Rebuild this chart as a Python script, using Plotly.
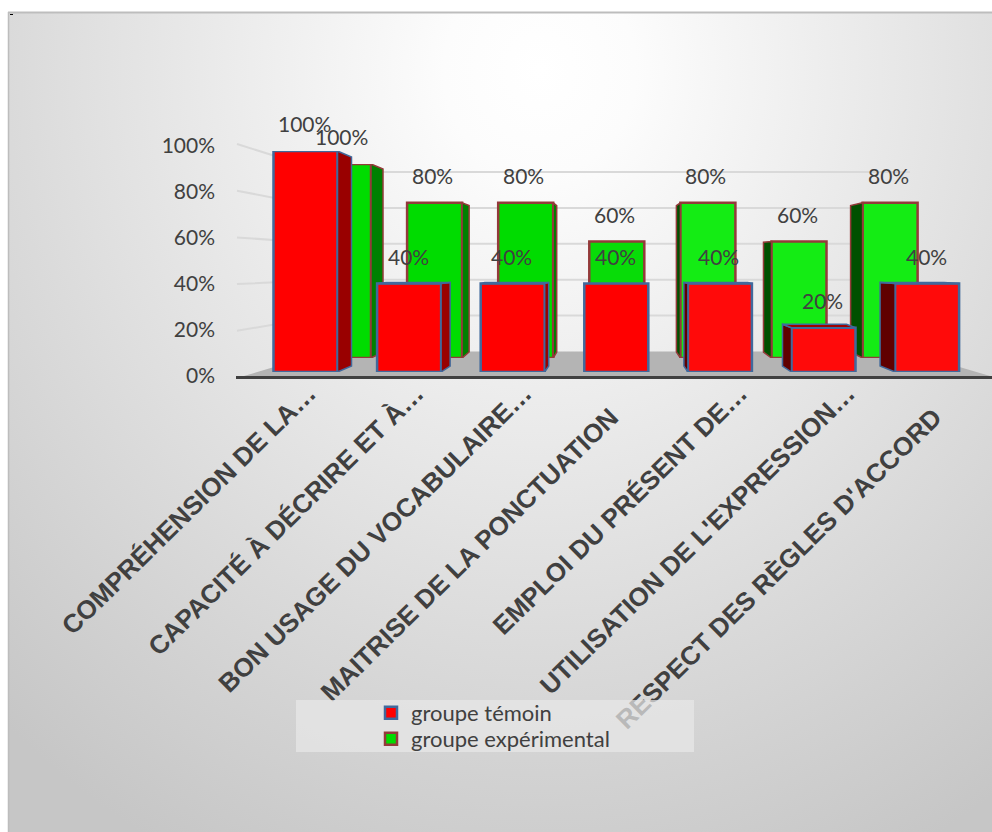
import base64
import plotly.graph_objects as go

# ---------- data ----------
categories = ["COMPRÉHENSION DE LA…", "CAPACITÉ À DÉCRIRE ET À…", "BON USAGE DU VOCABULAIRE…",
              "MAITRISE DE LA PONCTUATION", "EMPLOI DU PRÉSENT DE…", "UTILISATION DE L'EXPRESSION…",
              "RESPECT DES RÈGLES D'ACCORD"]
temoin = [100, 40, 40, 40, 40, 20, 40]
experimental = [100, 80, 80, 60, 80, 60, 80]
y_ticks = [0, 20, 40, 60, 80, 100]
name_temoin = "groupe témoin"
name_experimental = "groupe expérimental"

# ---------- styles / geometry (pixels) ----------
W, H = 992, 832
FONT = "Lato"
TXT = "#404040"
def fx(p): return p / W
def fy(p): return (H - p) / H

X_L, X_R = 236, 992
RED_C0, RED_P, RED_W = 305.5, 103.6, 0.618
GRN_C0, GRN_P, GRN_W = 343.5, 91.1, 0.604
LBL_C0, LBL_P = 308.5, 107.8      # labels ending in an ellipsis
LBL2_SHIFT_X, LBL2_POS = -21, 390 # labels shown in full sit lower and further left
LBL_POS = 366
RED_0, RED_100 = 372, 151
GRN_0, GRN_100 = 358, 164
RED_SIDE = [14, 9, 4, 0, -4, -9, -15]
GRN_SIDE = [12, 7, 3.5, 0, -4, -8, -12]
RED_FILL = ["#ff0000", "#ff0000", "#ff0000", "#ff0000", "#ff0a0a", "#ff0a0a", "#ff0a0a"]
GRN_FILL = ["#00dc00", "#00dc00", "#00dc00", "#08dc08", "#14ec14", "#14ec14", "#14ec14"]
RED_LINE = "#41699c"
GRN_LINE = "#943a3a"

svg = f'''<svg xmlns="http://www.w3.org/2000/svg" width="{W}" height="{H}">
<defs><radialGradient id="g" gradientUnits="userSpaceOnUse" cx="0" cy="0" r="1"
 gradientTransform="translate(540 70) scale(800 880)">
<stop offset="0" stop-color="#ffffff"/><stop offset="0.12" stop-color="#fcfcfc"/>
<stop offset="0.65" stop-color="#dbdbdb"/><stop offset="1" stop-color="#c6c6c6"/>
</radialGradient></defs>
<rect x="8" y="13" width="{W-8}" height="{H-13}" fill="url(#g)"/></svg>'''
bg_src = "data:image/svg+xml;base64," + base64.b64encode(svg.encode()).decode()

fig = go.Figure()

def add_side_faces(values, sides, w, ppu, shift_0, shift_100, xa, ya, dark_r, dark_l, top, line):
    for i, (v, dx_px) in enumerate(zip(values, sides)):
        if dx_px == 0:
            continue
        pitch = RED_P if xa == "x3" else GRN_P
        dx = dx_px / pitch
        xe = i + w / 2 if dx > 0 else i - w / 2
        back = lambda val: val - (shift_0 + (shift_100 - shift_0) * val / 100) / ppu
        fig.add_trace(go.Scatter(
            x=[xe, xe, xe + dx, xe + dx, xe], y=[0, v, back(v), back(0), 0],
            mode="lines", fill="toself", fillcolor=dark_r if dx > 0 else dark_l,
            line=dict(color=line, width=1.5), xaxis=xa, yaxis=ya,
            showlegend=False, hoverinfo="skip"))
        if back(v) > v:
            fig.add_trace(go.Scatter(
                x=[i - w / 2, i + w / 2, i + w / 2 + dx, i - w / 2 + dx, i - w / 2],
                y=[v, v, back(v), back(v), v],
                mode="lines", fill="toself", fillcolor=top,
                line=dict(color=line, width=1.5), xaxis=xa, yaxis=ya,
                showlegend=False, hoverinfo="skip"))

# base axes carriers
for xa in ("x", "x4", "x5"):
    fig.add_trace(go.Scatter(x=[0], y=[0], mode="markers", marker=dict(opacity=0), showlegend=False,
                             hoverinfo="skip", xaxis=xa, yaxis="y"))

# green (rear) row
fig.add_trace(go.Bar(x=list(range(7)), y=experimental, width=GRN_W, name=name_experimental,
                     marker=dict(color=GRN_FILL, line=dict(color=GRN_LINE, width=2.5)),
                     xaxis="x2", yaxis="y2", hoverinfo="skip", legend="legend2"))
add_side_faces(experimental, GRN_SIDE, GRN_W, (GRN_0 - GRN_100) / 100, -6, 5, "x2", "y2",
               "#008000", "#005000", "#00a000", GRN_LINE)

# red (front) row
fig.add_trace(go.Bar(x=list(range(7)), y=temoin, width=RED_W, name=name_temoin,
                     marker=dict(color=RED_FILL, line=dict(color=RED_LINE, width=2.5)),
                     xaxis="x3", yaxis="y3", hoverinfo="skip", legend="legend"))
add_side_faces(temoin, RED_SIDE, RED_W, (RED_0 - RED_100) / 100, -6, 6, "x3", "y3",
               "#990000", "#600000", "#a00000", RED_LINE)

# ---------- furniture ----------
shapes = []
BACK_0, BACK_100 = 351.5, 172
for t in y_ticks[1:]:
    by = BACK_0 + (BACK_100 - BACK_0) * t / 100
    ly = 377.5 + (144 - 377.5) * t / 100
    shapes.append(dict(type="path", xref="paper", yref="paper", layer="below",
                       path=f"M{fx(237)},{fy(ly)} L{fx(326)},{fy(by)} L{fx(910)},{fy(by)}",
                       line=dict(color="#d9d9d9", width=2)))
shapes.append(dict(type="path", xref="paper", yref="paper", layer="below",
                   path=f"M{fx(244)},{fy(376)} L{fx(326)},{fy(351.5)} L{fx(907)},{fy(351.5)} L{fx(990)},{fy(376)} Z",
                   fillcolor="#b4b4b4", line=dict(width=0)))
# frame
shapes.append(dict(type="line", xref="paper", yref="paper", layer="below", x0=fx(8), x1=1, y0=fy(12.5), y1=fy(12.5),
                   line=dict(color="#bdbdbd", width=2)))
shapes.append(dict(type="line", xref="paper", yref="paper", layer="below", x0=fx(8.5), x1=fx(8.5), y0=fy(12), y1=0,
                   line=dict(color="#bdbdbd", width=1.5)))
shapes.append(dict(type="line", xref="paper", yref="paper", layer="above", x0=fx(10), x1=fx(13), y0=fy(14.5), y1=fy(14.5),
                   line=dict(color="#000000", width=1)))
# legend plate (over the tick labels)
shapes.append(dict(type="rect", xref="paper", yref="paper", layer="above",
                   x0=fx(296), x1=fx(694), y0=fy(752), y1=fy(700),
                   fillcolor="rgba(232,232,232,0.72)", line=dict(width=0)))

annotations = []
for i, v in enumerate(temoin):
    annotations.append(dict(x=i, y=v, xref="x3", yref="y3", text=f"{v}%", showarrow=False,
                            yshift=27, xshift=-1, font=dict(family=FONT, size=21, color=TXT)))
for i, v in enumerate(experimental):
    annotations.append(dict(x=i, y=v, xref="x2", yref="y2", text=f"{v}%", showarrow=False,
                            yshift=27, xshift=-2, font=dict(family=FONT, size=21, color=TXT)))

rng_red = [(X_L - RED_C0) / RED_P, (X_R - RED_C0) / RED_P]
rng_grn = [(X_L - GRN_C0) / GRN_P, (X_R - GRN_C0) / GRN_P]
rng_lbl = [(X_L - LBL_C0) / LBL_P, (X_R - LBL_C0) / LBL_P]
rng_lbl2 = [(X_L - LBL_C0 - LBL2_SHIFT_X) / LBL_P, (X_R - LBL_C0 - LBL2_SHIFT_X) / LBL_P]
dom_x = [fx(X_L), fx(X_R)]
hidden = dict(visible=False, fixedrange=True, automargin=False)
leg = dict(x=fx(371), xanchor="left", yanchor="top", bgcolor="rgba(0,0,0,0)", itemwidth=30,
           font=dict(family=FONT, size=22, color=TXT), itemclick=False, itemdoubleclick=False)
label_axis = dict(domain=dom_x, anchor="free", overlaying="x", tickmode="array", tickangle=-44.5, ticks="",
                  showgrid=False, zeroline=False, showline=False, automargin=False,
                  ticklabelstandoff=6, fixedrange=True,
                  tickfont=dict(family="Liberation Sans", size=26, color="#404040", weight="bold"))
short_idx = [i for i, c in enumerate(categories) if c.endswith("…")]
full_idx = [i for i, c in enumerate(categories) if not c.endswith("…")]

fig.update_layout(
    width=W, height=H, margin=dict(l=0, r=0, t=0, b=0, pad=0), autosize=False,
    paper_bgcolor="#ffffff", plot_bgcolor="rgba(0,0,0,0)", barmode="overlay",
    font=dict(family=FONT, color=TXT),
    images=[dict(source=bg_src, xref="paper", yref="paper", x=0, y=1, sizex=1, sizey=1,
                 sizing="stretch", xanchor="left", yanchor="top", layer="below")],
    shapes=shapes, annotations=annotations,
    xaxis=dict(domain=dom_x, range=rng_red, showticklabels=False, ticks="", showgrid=False, zeroline=False,
               showline=True, automargin=False, linecolor="#404040", linewidth=3, fixedrange=True),
    xaxis4=dict(range=rng_lbl, position=fy(LBL_POS), tickvals=short_idx,
                ticktext=[categories[i] for i in short_idx], **label_axis),
    xaxis5=dict(range=rng_lbl2, position=fy(LBL2_POS), tickvals=full_idx,
                ticktext=[categories[i] for i in full_idx], **label_axis),
    yaxis=dict(domain=[fy(376), fy(146)], range=[0, 100], tickmode="array", tickvals=y_ticks,
               ticktext=[f"{t}%" for t in y_ticks], showgrid=False, zeroline=False, showline=False, ticks="",
               automargin=False, ticklabelstandoff=20, fixedrange=True,
               tickfont=dict(family=FONT, size=21, color=TXT)),
    xaxis2=dict(domain=dom_x, range=rng_grn, anchor="y2", **hidden),
    yaxis2=dict(domain=[fy(GRN_0), fy(GRN_100)], range=[0, 100], anchor="x2", **hidden),
    xaxis3=dict(domain=dom_x, range=rng_red, anchor="y3", **hidden),
    yaxis3=dict(domain=[fy(RED_0), fy(RED_100)], range=[0, 100], anchor="x3", **hidden),
    showlegend=True,
    legend=dict(y=fy(692), **leg),
    legend2=dict(y=fy(718), **leg),
)

fig.write_html("out.html", config=dict(displayModeBar=False),
               post_script="document.body.style.margin='0';")
